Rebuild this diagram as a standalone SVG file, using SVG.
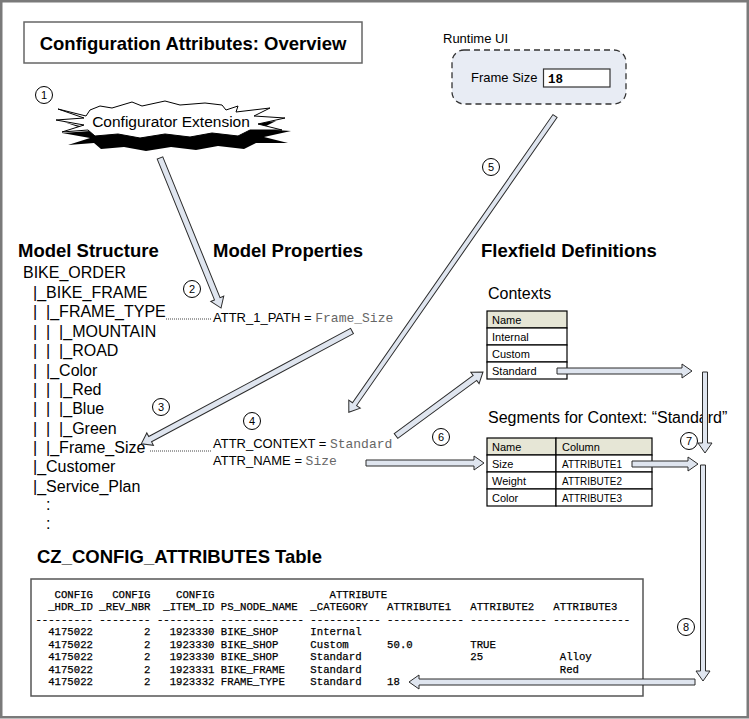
<svg xmlns="http://www.w3.org/2000/svg" width="749" height="719" viewBox="0 0 749 719">
<style>
text{font-family:"Liberation Sans",Arial,sans-serif;fill:#000}
.h{font-size:18.5px;font-weight:bold}
.tree{font-size:16px;white-space:pre}
.lbl{font-size:16px}
.prop{font-size:13px}
.mono{font-family:"Liberation Mono","Courier New",monospace;fill:#666}
.num{font-size:11px;text-anchor:middle}
.cell{font-size:11px}
.tbl{font-family:"Liberation Mono","Courier New",monospace;font-size:10.67px;white-space:pre;fill:#000;stroke:#000;stroke-width:0.25}
.blk{fill:#dfe5ef;stroke:#2b2b2b;stroke-width:1;stroke-linejoin:miter}
.circ{fill:#fff;stroke:#000;stroke-width:1}
.dot{stroke:#444;stroke-width:1;stroke-dasharray:1 1;fill:none}
.grid{fill:#fff;stroke:#000;stroke-width:1.2}
.hdr{fill:#e6e6d6;stroke:#000;stroke-width:1.2}
</style>
<rect x="1.25" y="1.25" width="746.5" height="716" fill="#fff" stroke="#7a7a7a" stroke-width="2.5"/>

<g id="title">
<rect x="24" y="22" width="338" height="41" fill="#fff" stroke="#666" stroke-width="1.5"/>
<text x="193" y="50" class="h" text-anchor="middle">Configuration Attributes: Overview</text>
</g>

<g id="configurator-extension">
<polygon transform="translate(6,13)" fill="#000" points="58,109 86,116 90,110 100,106 112,108 132,102 142,106 165,101 180,105 205,103 222,105 226,110 238,106 236,112 270,108 254,116 285,118 258,124 282,130 250,130 238,136 212,133 190,137 165,134 140,138 118,134 95,136 88,130 62,132 84,125 56,120 84,118"/>
<polygon fill="#fff" stroke="#000" stroke-width="1" points="58,109 86,116 90,110 100,106 112,108 132,102 142,106 165,101 180,105 205,103 222,105 226,110 238,106 236,112 270,108 254,116 285,118 258,124 282,130 250,130 238,136 212,133 190,137 165,134 140,138 118,134 95,136 88,130 62,132 84,125 56,120 84,118"/>
<text x="171" y="127" font-size="15.5" text-anchor="middle">Configurator Extension</text>
</g>

<g id="runtime-ui">
<text x="443" y="43" class="prop">Runtime UI</text>
<rect x="452" y="50" width="174" height="54" rx="12" fill="#e8ecf4" stroke="#333" stroke-width="1.3" stroke-dasharray="6 4"/>
<text x="471" y="82" class="prop">Frame Size</text>
<rect x="543.5" y="69" width="66.5" height="18" fill="#fff" stroke="#333" stroke-width="1.2"/>
<text x="548" y="83" style="font-family:'Liberation Mono',monospace;font-size:12.5px;font-weight:bold">18</text>
</g>

<g id="headings">
<text x="18" y="257" class="h">Model Structure</text>
<text x="213" y="257" class="h">Model Properties</text>
<text x="481" y="257" class="h">Flexfield Definitions</text>
<text x="37" y="563" class="h">CZ_CONFIG_ATTRIBUTES Table</text>
</g>

<g id="model-structure">
<text x="23" y="278" class="tree">BIKE_ORDER</text>
<text x="33" y="297.5" class="tree" xml:space="preserve">|_BIKE_FRAME</text>
<text x="33" y="317" class="tree" xml:space="preserve">|  |_FRAME_TYPE</text>
<text x="33" y="336.5" class="tree" xml:space="preserve">|  |  |_MOUNTAIN</text>
<text x="33" y="356" class="tree" xml:space="preserve">|  |  |_ROAD</text>
<text x="33" y="375.5" class="tree" xml:space="preserve">|  |_Color</text>
<text x="33" y="395" class="tree" xml:space="preserve">|  |  |_Red</text>
<text x="33" y="414" class="tree" xml:space="preserve">|  |  |_Blue</text>
<text x="33" y="433.5" class="tree" xml:space="preserve">|  |  |_Green</text>
<text x="33" y="452.5" class="tree" xml:space="preserve">|  |_Frame_Size</text>
<text x="33" y="472" class="tree">|_Customer</text>
<text x="33" y="491.5" class="tree">|_Service_Plan</text>
<text x="46" y="510" class="tree">:</text>
<text x="46" y="529" class="tree">:</text>
</g>

<g id="model-properties">
<text x="213" y="322" class="prop">ATTR_1_PATH = <tspan class="mono">Frame_Size</tspan></text>
<text x="213" y="448" class="prop">ATTR_CONTEXT = <tspan class="mono">Standard</tspan></text>
<text x="213" y="465" class="prop">ATTR_NAME = <tspan class="mono">Size</tspan></text>
</g>

<g id="contexts">
<text x="488" y="299" class="lbl">Contexts</text>
<rect x="487" y="311" width="80" height="17" class="hdr"/>
<rect x="487" y="328" width="80" height="17" class="grid"/>
<rect x="487" y="345" width="80" height="17" class="grid"/>
<rect x="487" y="362" width="80" height="17" class="grid"/>
<text x="492" y="324" class="cell">Name</text>
<text x="492" y="341" class="cell">Internal</text>
<text x="492" y="358" class="cell">Custom</text>
<text x="492" y="375" class="cell">Standard</text>
</g>

<g id="segments">
<text x="488" y="423" class="lbl">Segments for Context: “Standard”</text>
<rect x="487" y="438" width="69" height="17" class="hdr"/>
<rect x="556" y="438" width="96" height="17" class="hdr"/>
<rect x="487" y="455" width="69" height="17" class="grid"/>
<rect x="556" y="455" width="96" height="17" class="grid"/>
<rect x="487" y="472" width="69" height="17" class="grid"/>
<rect x="556" y="472" width="96" height="17" class="grid"/>
<rect x="487" y="489" width="69" height="17" class="grid"/>
<rect x="556" y="489" width="96" height="17" class="grid"/>
<text x="492" y="451" class="cell">Name</text>
<text x="562" y="451" class="cell">Column</text>
<text x="492" y="468" class="cell">Size</text>
<text x="562" y="468" class="cell" textLength="60" lengthAdjust="spacingAndGlyphs">ATTRIBUTE1</text>
<text x="492" y="485" class="cell">Weight</text>
<text x="562" y="485" class="cell" textLength="60" lengthAdjust="spacingAndGlyphs">ATTRIBUTE2</text>
<text x="492" y="502" class="cell">Color</text>
<text x="562" y="502" class="cell" textLength="60" lengthAdjust="spacingAndGlyphs">ATTRIBUTE3</text>
</g>

<g id="cz-config-attributes">
<rect x="31" y="579" width="612" height="117" fill="#fff" stroke="#555" stroke-width="1.5"/>
<text x="35.4" y="597.5" class="tbl" xml:space="preserve">   CONFIG   CONFIG    CONFIG                  ATTRIBUTE</text>
<text x="35.4" y="610" class="tbl" xml:space="preserve">  _HDR_ID _REV_NBR  _ITEM_ID PS_NODE_NAME  _CATEGORY   ATTRIBUTE1   ATTRIBUTE2   ATTRIBUTE3</text>
<text x="35.4" y="622.5" class="tbl" xml:space="preserve">--------- -------- --------- ------------- ----------- ------------ ------------ ------------</text>
<text x="35.4" y="635" class="tbl" xml:space="preserve">  4175022        2   1923330 BIKE_SHOP     Internal</text>
<text x="35.4" y="647.5" class="tbl" xml:space="preserve">  4175022        2   1923330 BIKE_SHOP     Custom      50.0         TRUE</text>
<text x="35.4" y="660" class="tbl" xml:space="preserve">  4175022        2   1923330 BIKE_SHOP     Standard                 25            Alloy</text>
<text x="35.4" y="672.5" class="tbl" xml:space="preserve">  4175022        2   1923331 BIKE_FRAME    Standard                               Red</text>
<text x="35.4" y="685" class="tbl" xml:space="preserve">  4175022        2   1923332 FRAME_TYPE    Standard    18</text>
</g>

<g id="connectors">
<line x1="166" y1="319" x2="212" y2="319" class="dot"/>
<line x1="150" y1="451" x2="212" y2="451" class="dot"/>
<path class="blk" transform="translate(160,158) rotate(67.87)" d="M0,-3H152V-7L162,0L152,7V3H0Z"/>
<path class="blk" transform="translate(555,116) rotate(124.83)" d="M0,-2.5H351V-7L361,0L351,7V2.5H0Z"/>
<path class="blk" transform="translate(352,331) rotate(151.83)" d="M0,-3H229V-7L239,0L229,7V3H0Z"/>
<path class="blk" transform="translate(396,436) rotate(-36.34)" d="M0,-3H98V-7L108,0L98,7V3H0Z"/>
<path class="blk" transform="translate(366,463)" d="M0,-3H108V-7L118,0L108,7V3H0Z"/>
<path class="blk" transform="translate(557,371)" d="M0,-3H125V-7L135,0L125,7V3H0Z"/>
<path class="blk" transform="translate(705,372) rotate(90)" d="M0,-2.5H71V-7L81,0L71,7V2.5H0Z"/>
<path class="blk" transform="translate(632,464)" d="M0,-3H56V-7L66,0L56,7V3H0Z"/>
<path class="blk" transform="translate(703,465) rotate(90)" d="M0,-2.5H206V-7L216,0L206,7V2.5H0Z"/>
<path class="blk" transform="translate(695,682) rotate(180)" d="M0,-3H276V-7L286,0L276,7V3H0Z"/>
</g>

<g id="steps">
<circle cx="44" cy="95" r="8.5" class="circ"/><text x="44" y="99" class="num">1</text>
<circle cx="192" cy="289" r="8.5" class="circ"/><text x="192" y="293" class="num">2</text>
<circle cx="161" cy="407" r="8.5" class="circ"/><text x="161" y="411" class="num">3</text>
<circle cx="252" cy="421" r="8.5" class="circ"/><text x="252" y="425" class="num">4</text>
<circle cx="491" cy="167" r="8.5" class="circ"/><text x="491" y="171" class="num">5</text>
<circle cx="441" cy="437" r="8.5" class="circ"/><text x="441" y="441" class="num">6</text>
<circle cx="689" cy="441" r="8.5" class="circ"/><text x="689" y="445" class="num">7</text>
<circle cx="686" cy="627" r="8.5" class="circ"/><text x="686" y="631" class="num">8</text>
</g>
</svg>
